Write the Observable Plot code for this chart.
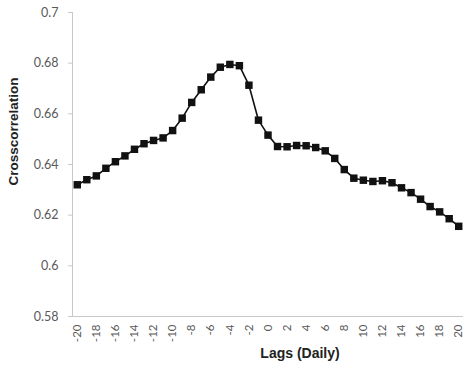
<!DOCTYPE html>
<html>
<head>
<meta charset="utf-8">
<script src="https://cdn.jsdelivr.net/npm/d3@7"></script>
<script src="https://cdn.jsdelivr.net/npm/@observablehq/plot@0.6"></script>
<style>
  html, body { margin: 0; padding: 0; background: #fff; }
  #chart svg { display: block; }
</style>
</head>
<body>
<div id="chart"></div>
<script>
const lags = [-20,-19,-18,-17,-16,-15,-14,-13,-12,-11,-10,-9,-8,-7,-6,-5,-4,-3,-2,-1,0,1,2,3,4,5,6,7,8,9,10,11,12,13,14,15,16,17,18,19,20];
const crosscorrelation = [0.6320,0.6340,0.6355,0.6385,0.6411,0.6434,0.6460,0.6482,0.6495,0.6505,0.6534,0.6583,0.6645,0.6695,0.6745,0.6784,0.6795,0.6790,0.6713,0.6575,0.6516,0.6471,0.6470,0.6475,0.6474,0.6467,0.6454,0.6424,0.6380,0.6346,0.6338,0.6333,0.6336,0.6328,0.6308,0.6289,0.6263,0.6234,0.6213,0.6186,0.6156];
const xTicks = [-20,-18,-16,-14,-12,-10,-8,-6,-4,-2,0,2,4,6,8,10,12,14,16,18,20];
const yTicks = [0.58,0.6,0.62,0.64,0.66,0.68,0.7];
const xTitle = "Lags (Daily)";
const yTitle = "Crosscorrelation";

const data = lags.map((l, i) => ({lag: l, value: crosscorrelation[i]}));

const chart = Plot.plot({
  width: 466,
  height: 367,
  marginLeft: 72,
  marginRight: 3,
  marginTop: 12,
  marginBottom: 51,
  style: {fontFamily: "Lato, 'Open Sans', sans-serif", background: "#fff"},
  x: {domain: [-20.5, 20.5]},
  y: {domain: [0.58, 0.7]},
  marks: [
    Plot.ruleX([-20.5], {stroke: "#c8c8c8", strokeWidth: 1}),
    Plot.ruleY([0.58], {stroke: "#c8c8c8", strokeWidth: 1}),
    Plot.axisY({
      ticks: yTicks,
      tickFormat: d => String(+d.toFixed(2)),
      tickSize: 4,
      tickPadding: 10,
      stroke: "#c8c8c8",
      color: "#595959",
      fontSize: 12.5,
      label: null
    }),
    Plot.axisX({
      ticks: xTicks,
      tickFormat: d => String(d),
      tickRotate: -90,
      tickSize: 0,
      tickPadding: 8,
      color: "#595959",
      fontSize: 11.5,
      label: null
    }),
    Plot.line(data, {x: "lag", y: "value", stroke: "#111", strokeWidth: 1.6}),
    Plot.dot(data, {x: "lag", y: "value", symbol: "square", fill: "#111", r: 4.2}),
    Plot.text([yTitle], {frameAnchor: "left", dx: -59, dy: 21, rotate: -90, fontSize: 13.5, fontWeight: "bold", fill: "#222", fontFamily: "'Liberation Sans', Arial, sans-serif"}),
    Plot.text([xTitle], {frameAnchor: "bottom", dx: 32, dy: 41, fontSize: 14, fontWeight: "bold", fill: "#222", fontFamily: "'Liberation Sans', Arial, sans-serif"})
  ]
});
document.getElementById("chart").appendChild(chart);
</script>
</body>
</html>
